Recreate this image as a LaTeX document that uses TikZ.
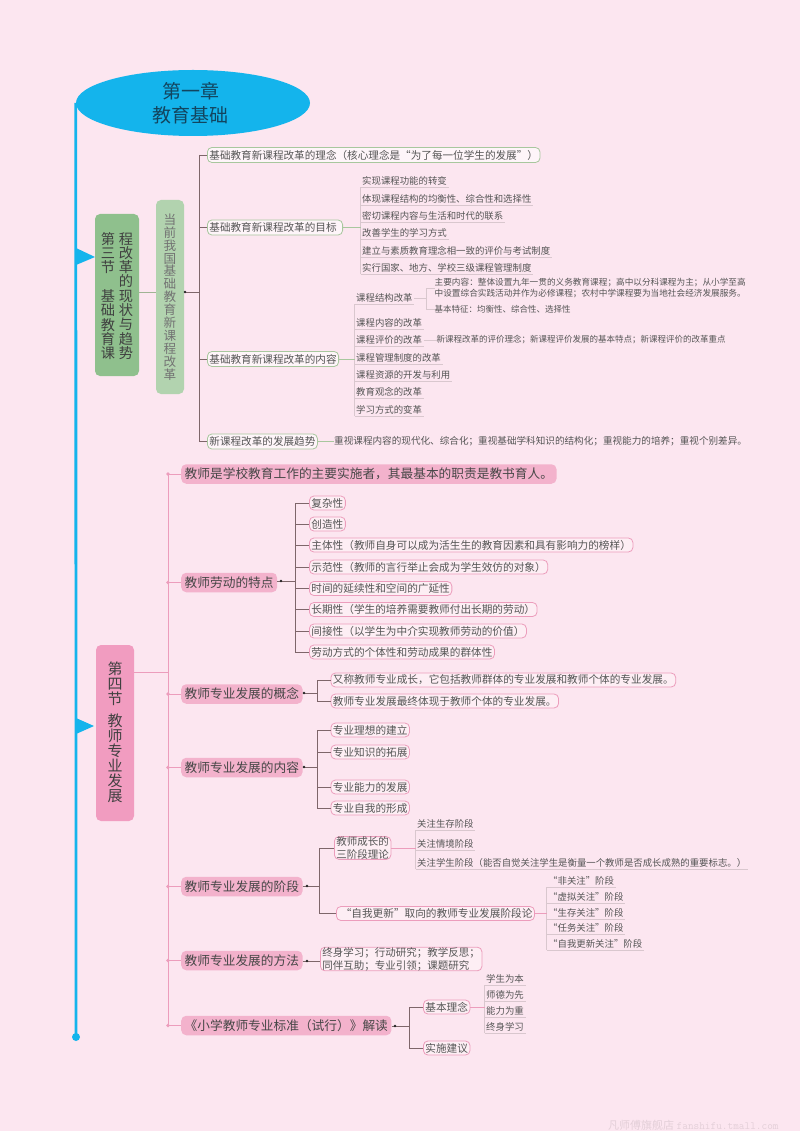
\documentclass[tikz,border=0pt]{standalone}
\usepackage{fontspec}
\setmainfont{Noto Sans CJK SC}
\usetikzlibrary{shapes.geometric}
\definecolor{bgc}{HTML}{FCE6F0}
\definecolor{blu}{HTML}{14B4EC}
\definecolor{titlec}{HTML}{12455F}
\definecolor{grA}{HTML}{8FC08D}
\definecolor{grB}{HTML}{B2D3AF}
\definecolor{grL}{HTML}{A8C79E}
\definecolor{pkA}{HTML}{F19CC0}
\definecolor{pkB}{HTML}{F3B2CC}
\definecolor{pkL}{HTML}{EC9DBC}
\definecolor{pkF}{HTML}{FDEEF4}
\definecolor{brn}{HTML}{7E666A}
\definecolor{txt}{HTML}{555555}
\definecolor{leafl}{HTML}{D9C7CE}
\newcommand{\fs}[1]{\fontsize{#1}{#1}\selectfont}
\tikzset{
  vbox/.style={rounded corners=5pt,align=center,anchor=center},
  conn/.style={draw=brn,line width=.7pt},
  gconn/.style={draw=grL,line width=.7pt},
  pconn/.style={draw=pkL,line width=.8pt},
  lconn/.style={draw=leafl,line width=.7pt},
  gnode/.style={draw=grL,fill=white!60!bgc,rounded corners=4.5pt,line width=.8pt,anchor=west,inner xsep=2pt,inner ysep=0pt,minimum height=15pt,text=txt,font=\fs{10.6}},
  pmain/.style={fill=pkB,rounded corners=5pt,anchor=west,inner xsep=3.5pt,inner ysep=0pt,minimum height=19.5pt,text=black!72,font=\fs{12.7}},
  psub/.style={draw=pkL,fill=pkF,rounded corners=4.5pt,line width=.8pt,anchor=west,inner xsep=2pt,inner ysep=0pt,minimum height=14pt,text=txt,font=\fs{10.65}},
  leaf/.style={anchor=west,inner xsep=1.5pt,inner ysep=0pt,minimum height=12pt,text=txt,font=\fs{9.4}},
  small/.style={anchor=west,inner sep=0pt,text=txt,font=\fs{8.5}},
}
\newcommand{\leafu}[4]{\node[leaf] (#1) at (#2,#3) {#4};\draw[lconn] (#1.south west) -- (#1.south east);}
\newcommand{\tdot}[1]{\fill[black!85] (#1) circle (1.4pt);}
\begin{document}
\begin{tikzpicture}[x=1pt,y=-1pt]
\useasboundingbox (0,0) rectangle (800,1131);
\fill[bgc] (0,0) rectangle (800,1131);

% title and main spine
\coordinate (spineend) at (76,1037);
\node[ellipse,fill=blu,minimum width=234pt,minimum height=66pt,inner sep=0pt,text=titlec,align=center,font=\fontsize{19}{24.5}\selectfont] (title) at (193,103) {第一章\kern5pt\\教育基础\kern5pt};
\draw[blu,line width=2.8pt] (title.west) -- (spineend);
\fill[blu] (spineend) circle (4pt);
\fill[blu] (76,248) -- (95,257) -- (76,265) -- cycle;
\fill[blu] (76,718) -- (94,726) -- (76,734) -- cycle;

% section 3
\node[vbox,fill=grA,minimum width=44pt,minimum height=162pt,inner sep=0pt] (s3) at (117,295) {};
\node[align=center,inner sep=0pt,text=black!75,font=\fontsize{14.2}{14.3}\selectfont] (s3a) at (108,296) {第\\三\\节\\\mbox{}\\基\\础\\教\\育\\课};
\node[align=center,inner sep=0pt,text=black!75,font=\fontsize{14.2}{14.3}\selectfont] (s3b) at (126,296) {程\\改\\革\\的\\现\\状\\与\\趋\\势};
\node[vbox,fill=grB,minimum width=28pt,minimum height=194pt,text=black!55,inner sep=0pt,font=\fontsize{12.6}{12.9}\selectfont] (s3c) at (170,297) {当\\前\\我\\国\\基\\础\\教\\育\\新\\课\\程\\改\\革};
\coordinate (t0) at (199,292);
\coordinate (d0) at (185,292);
\draw[gconn,draw=grL!80!brn] (s3.east |- d0) -- (s3c.west |- d0);
\draw[conn] (d0) -- (t0);
\tdot{d0}

\node[gnode] (g1) at (207,155) {基础教育新课程改革的理念（核心理念是“为了每一位学生的发展”）};
\node[gnode] (g2) at (207,227.5) {基础教育新课程改革的目标\kern4pt};
\node[gnode] (g3) at (207,359) {基础教育新课程改革的内容};
\node[gnode] (g4) at (207,441.5) {新课程改革的发展趋势};
\draw[conn] (t0 |- g1.west) -- (t0 |- g4.west);
\foreach \c in {g1,g2,g3,g4} \draw[conn] (t0 |- \c.west) -- (\c.west);

% goals
\leafu{a1}{360.5}{181}{实现课程功能的转变}
\leafu{a2}{360.5}{199}{体现课程结构的均衡性、综合性和选择性}
\leafu{a3}{360.5}{216}{密切课程内容与生活和时代的联系}
\leafu{a4}{360.5}{233}{改善学生的学习方式}
\leafu{a5}{360.5}{251}{建立与素质教育理念相一致的评价与考试制度}
\leafu{a6}{360.5}{268}{实行国家、地方、学校三级课程管理制度}
\draw[lconn] (a1.south west) -- (a6.south west);
\draw[gconn] (g2.east) -- (g2.east -| a1.south west);

% contents
\leafu{b1}{354.5}{298}{课程结构改革}
\leafu{b2}{354.5}{323}{课程内容的改革}
\leafu{b3}{354.5}{340}{课程评价的改革}
\leafu{b4}{354.5}{358}{课程管理制度的改革}
\leafu{b5}{354.5}{375}{课程资源的开发与利用}
\leafu{b6}{354.5}{392}{教育观念的改革}
\leafu{b7}{354.5}{410}{学习方式的变革}
\draw[lconn] (b1.south west) -- (b7.south west);
\draw[gconn] (g3.east) -- (g3.east -| b1.south west);

\node[small,align=left,font=\fontsize{8.64}{10.6}\selectfont] (b1a) at (434.5,288.3) {主要内容：整体设置九年一贯的义务教育课程；高中以分科课程为主；从小学至高\\中设置综合实践活动并作为必修课程；农村中学课程要为当地社会经济发展服务。};
\node[small] (b1b) at (434.5,309.3) {基本特征：均衡性、综合性、选择性};
\coordinate (t1) at (426,298);
\draw[lconn] (b1.east) -- (t1);
\draw[lconn] (t1 |- b1a.west) -- (t1 |- b1b.west);
\draw[lconn] (t1 |- b1a.west) -- (b1a.west);
\draw[lconn] (t1 |- b1b.west) -- (b1b.west);
\node[small] (b3a) at (436.5,340) {新课程改革的评价理念；新课程评价发展的基本特点；新课程评价的改革重点};
\draw[lconn] (b3.east) -- (b3a.west);
\node[anchor=west,inner sep=0pt,text=txt,font=\fs{9.6}] (g4a) at (334,441.5) {重视课程内容的现代化、综合化；重视基础学科知识的结构化；重视能力的培养；重视个别差异。};
\draw[gconn] (g4.east) -- (g4a.west);

% section 4
\node[vbox,fill=pkA,minimum width=38pt,minimum height=176pt,inner sep=0pt] (s4) at (115,733) {};
\node[align=center,inner sep=0pt,text=black!75,font=\fontsize{15}{15}\selectfont] (s4t) at (115,732) {第\\四\\节\\[7pt]教\\师\\专\\业\\发\\展};
\coordinate (tp) at (168,672);
\draw[pconn] (s4.east |- tp) -- (tp);

\node[pmain] (n1) at (181,474) {教师是学校教育工作的主要实施者，其最基本的职责是教书育人。};
\node[pmain] (n2) at (181,582.5) {教师劳动的特点};
\node[pmain] (n3) at (181,694) {教师专业发展的概念};
\node[pmain] (n4) at (181,767.5) {教师专业发展的内容};
\node[pmain] (n5) at (181,886.5) {教师专业发展的阶段};
\node[pmain] (n6) at (181,960.5) {教师专业发展的方法};
\node[pmain] (n7) at (181,1025.5) {《小学教师专业标准（试行）》解读};
\draw[pconn] (tp |- n1.west) -- (tp |- n7.west);
\foreach \c in {n1,n2,n3,n4,n5,n6,n7} {
  \draw[pconn] (tp |- \c.west) -- (\c.west);
  \fill[pkL] (tp |- \c.west) circle (1.8pt);
}

% n2 children
\coordinate (t2) at (295,581);
\node[psub] (c1) at (309,503) {复杂性};
\node[psub] (c2) at (309,524) {创造性};
\node[psub] (c3) at (309,545) {主体性（教师自身可以成为活生生的教育因素和具有影响力的榜样）};
\node[psub] (c4) at (309,567) {示范性（教师的言行举止会成为学生效仿的对象）};
\node[psub] (c5) at (309,588.5) {时间的延续性和空间的广延性};
\node[psub] (c6) at (309,609.5) {长期性（学生的培养需要教师付出长期的劳动）};
\node[psub] (c7) at (309,631) {间接性（以学生为中介实现教师劳动的价值）};
\node[psub] (c8) at (309,652) {劳动方式的个体性和劳动成果的群体性};
\draw[conn] (n2.east |- t2) -- (t2);
\draw[conn] (t2 |- c1.west) -- (t2 |- c8.west);
\foreach \c in {c1,c2,c3,c4,c5,c6,c7,c8} \draw[conn] (t2 |- \c.west) -- (\c.west);
\coordinate (dn2) at (281,581); \tdot{dn2}

% n3 children
\coordinate (t3) at (317,693);
\node[psub] (e1) at (330.5,680) {又称教师专业成长，它包括教师群体的专业发展和教师个体的专业发展。};
\node[psub] (e2) at (330.5,701) {教师专业发展最终体现于教师个体的专业发展。};
\draw[conn] (n3.east |- t3) -- (t3);
\draw[conn] (t3 |- e1.west) -- (t3 |- e2.west);
\foreach \c in {e1,e2} \draw[conn] (t3 |- \c.west) -- (\c.west);
\coordinate (dn3) at (304,693); \tdot{dn3}

% n4 children
\coordinate (t4) at (317,767);
\node[psub] (f1) at (330.5,730) {专业理想的建立};
\node[psub] (f2) at (330.5,752) {专业知识的拓展};
\node[psub] (f3) at (330.5,787) {专业能力的发展};
\node[psub] (f4) at (330.5,808) {专业自我的形成};
\draw[conn] (n4.east |- t4) -- (t4);
\draw[conn] (t4 |- f1.west) -- (t4 |- f4.west);
\foreach \c in {f1,f2,f3,f4} \draw[conn] (t4 |- \c.west) -- (\c.west);
\coordinate (dn4) at (304,767); \tdot{dn4}

% n5 children
\coordinate (t5) at (319.5,886);
\node[psub,align=center,font=\fontsize{10.5}{13}\selectfont] (h1) at (334,848) {教师成长的\\三阶段理论};
\node[psub] (h2) at (336,913.5) {\ “自我更新”取向的教师专业发展阶段论};
\draw[conn] (n5.east |- t5) -- (t5);
\draw[conn] (t5 |- h1.west) -- (t5 |- h2.west);
\draw[conn] (t5 |- h1.west) -- (h1.west);
\draw[conn] (t5 |- h2.west) -- (h2.west);
\coordinate (dn5) at (307,886); \tdot{dn5}

\leafu{i1}{415.5}{824}{关注生存阶段}
\leafu{i2}{415.5}{844}{关注情境阶段}
\leafu{i3}{415.5}{863}{关注学生阶段（能否自觉关注学生是衡量一个教师是否成长成熟的重要标志。）}
\draw[lconn] (i1.south west) -- (i3.south west);
\draw[pconn,line width=.6pt] (h1.east) -- (h1.east -| i1.south west);

\leafu{j1}{546.5}{881}{“非关注”阶段}
\leafu{j2}{546.5}{897}{“虚拟关注”阶段}
\leafu{j3}{546.5}{913}{“生存关注”阶段}
\leafu{j4}{546.5}{928}{“任务关注”阶段}
\leafu{j5}{546.5}{944}{“自我更新关注”阶段}
\draw[lconn] (j1.south west) -- (j5.south west);
\draw[pconn,line width=.6pt] (h2.east) -- (h2.east -| j1.south west);

% n6
\node[psub,align=left,font=\fontsize{10.5}{13}\selectfont] (k1) at (320,959) {终身学习；行动研究；教学反思；\\同伴互助；专业引领；课题研究};
\coordinate (dn6) at (307,961); 
\draw[conn] (n6.east |- dn6) -- (k1.west |- dn6);
\tdot{dn6}

% n7
\coordinate (t7) at (409,1026);
\node[psub] (m1) at (423,1007) {基本理念};
\node[psub] (m2) at (423,1048) {实施建议};
\draw[conn] (n7.east |- t7) -- (t7);
\draw[conn] (t7 |- m1.west) -- (t7 |- m2.west);
\foreach \c in {m1,m2} \draw[conn] (t7 |- \c.west) -- (\c.west);
\coordinate (dn7) at (395,1026); \tdot{dn7}

\leafu{o1}{484.5}{979}{学生为本}
\leafu{o2}{484.5}{995}{师德为先}
\leafu{o3}{484.5}{1011}{能力为重}
\leafu{o4}{484.5}{1027}{终身学习}
\draw[lconn] (o1.south west) -- (o4.south west);
\draw[pconn,line width=.6pt] (m1.east) -- (m1.east -| o1.south west);

% watermark
\node[anchor=west,inner sep=0pt,text=black!10!bgc,font=\fs{11}] (wm) at (608,1125) {凡师傅旗舰店 \texttt{fanshifu.tmall.com}};
\end{tikzpicture}
\end{document}
